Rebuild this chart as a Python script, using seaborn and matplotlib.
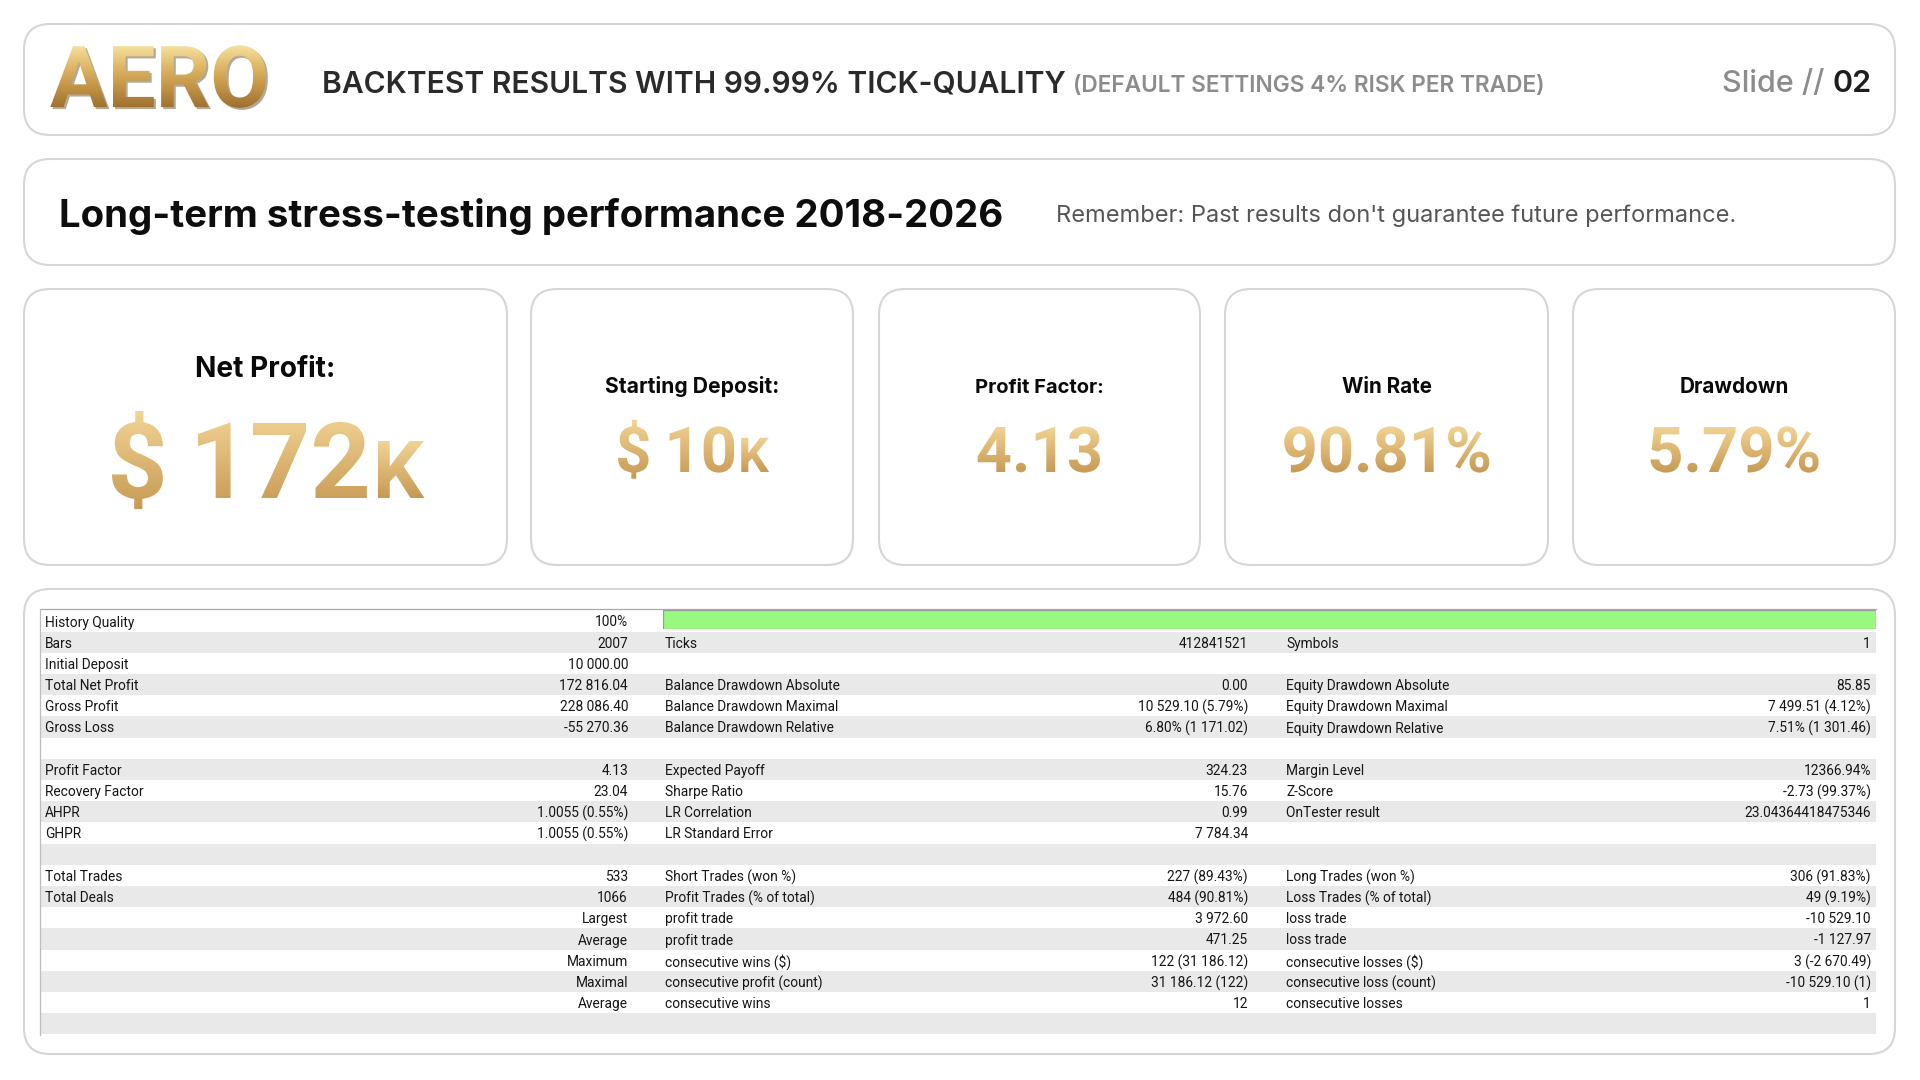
import numpy as np
import pandas as pd
import matplotlib
matplotlib.use("Agg")
import matplotlib.pyplot as plt
import seaborn as sns
from matplotlib.patches import FancyBboxPatch, Rectangle
from matplotlib.patheffects import AbstractPathEffect, SimplePatchShadow
from matplotlib.transforms import TransformedPath
from matplotlib.colors import LinearSegmentedColormap
from matplotlib import font_manager

# ---------------- data ----------------
logo_text = "AERO"
header_title = "BACKTEST RESULTS WITH 99.99% TICK-QUALITY"
header_sub = "(DEFAULT SETTINGS 4% RISK PER TRADE)"
slide_prefix = "Slide //"
slide_no = "02"
headline = "Long-term stress-testing performance 2018-2026"
disclaimer = "Remember: Past results don't guarantee future performance."

kpi_titles = ["Net Profit:", "Starting Deposit:", "Profit Factor:", "Win Rate", "Drawdown"]
kpi_values = ["$ 172", "$ 10", "4.13", "90.81%", "5.79%"]
kpi_suffix = ["K", "K", "", "", ""]

history_quality_label = "History Quality"
history_quality = 100

col1_labels = ["History Quality", "Bars", "Initial Deposit", "Total Net Profit", "Gross Profit",
               "Gross Loss", "", "Profit Factor", "Recovery Factor", "AHPR", "GHPR", "",
               "Total Trades", "Total Deals", "", "", "", "", "", ""]
col1_values = ["100%", "2007", "10 000.00", "172 816.04", "228 086.40", "-55 270.36", "",
               "4.13", "23.04", "1.0055 (0.55%)", "1.0055 (0.55%)", "", "533", "1066",
               "Largest", "Average", "Maximum", "Maximal", "Average", ""]
col2_labels = ["", "Ticks", "", "Balance Drawdown Absolute", "Balance Drawdown Maximal",
               "Balance Drawdown Relative", "", "Expected Payoff", "Sharpe Ratio", "LR Correlation",
               "LR Standard Error", "", "Short Trades (won %)", "Profit Trades (% of total)",
               "profit trade", "profit trade", "consecutive wins ($)", "consecutive profit (count)",
               "consecutive wins", ""]
col2_values = ["", "412841521", "", "0.00", "10 529.10 (5.79%)", "6.80% (1 171.02)", "",
               "324.23", "15.76", "0.99", "7 784.34", "", "227 (89.43%)", "484 (90.81%)",
               "3 972.60", "471.25", "122 (31 186.12)", "31 186.12 (122)", "12", ""]
col3_labels = ["", "Symbols", "", "Equity Drawdown Absolute", "Equity Drawdown Maximal",
               "Equity Drawdown Relative", "", "Margin Level", "Z-Score", "OnTester result",
               "", "", "Long Trades (won %)", "Loss Trades (% of total)", "loss trade",
               "loss trade", "consecutive losses ($)", "consecutive loss (count)",
               "consecutive losses", ""]
col3_values = ["", "1", "", "85.85", "7 499.51 (4.12%)", "7.51% (1 301.46)", "",
               "12366.94%", "-2.73 (99.37%)", "23.04364418475346", "", "", "306 (91.83%)",
               "49 (9.19%)", "-10 529.10", "-1 127.97", "3 (-2 670.49)", "-10 529.10 (1)", "1", ""]

# ---------------- style ----------------
sns.set_theme(style="white")
plt.rcParams["font.family"] = ["Roboto", "DejaVu Sans"]


def has_weight(fam, minw):
    for f in font_manager.fontManager.ttflist:
        if f.name == fam:
            w = f.weight
            if isinstance(w, str):
                w = font_manager.weight_dict.get(w, 400)
            if w >= minw:
                return True
    return False


HEAD = "Inter" if has_weight("Inter", 600) else "Roboto"
VALF = "Roboto"
NARROW = has_weight("Liberation Sans Narrow", 400)
TABF = "Liberation Sans Narrow" if NARROW else "Roboto"

GOLD = ["#F2D596", "#DDB673", "#C59952"]
LOGO_GOLD = ["#F7E4A2", "#E0B968", "#C39345", "#9A7030"]


class GradientFill(AbstractPathEffect):
    """Fill glyph outlines of a real text with a vertical gradient (top -> bottom)."""

    def __init__(self, colors):
        super().__init__()
        self.cmap = LinearSegmentedColormap.from_list("g", colors)

    def draw_path(self, renderer, gc, tpath, affine, rgbFace=None):
        p = affine.transform_path(tpath)
        ext = p.get_extents()
        x0, y0 = int(np.floor(ext.x0)) - 1, int(np.floor(ext.y0)) - 1
        x1, y1 = int(np.ceil(ext.x1)) + 1, int(np.ceil(ext.y1)) + 1
        w, h = max(x1 - x0, 1), max(y1 - y0, 1)
        # Agg images are stored bottom row first
        t = np.linspace(1, 0, h)[:, None]
        rgba = (self.cmap(np.repeat(t, w, axis=1)) * 255).astype(np.uint8)
        rgba = np.ascontiguousarray(rgba)
        gc2 = renderer.new_gc()
        gc2.copy_properties(gc)
        gc2.set_clip_path(TransformedPath(tpath, affine))
        renderer.draw_image(gc2, x0, y0, rgba)
        gc2.restore()


fig = plt.figure(figsize=(19.2, 10.8), dpi=100)
fig.patch.set_facecolor("white")
ax = fig.add_axes([0, 0, 1, 1])
ax.set_xlim(0, 1920)
ax.set_ylim(1080, 0)
ax.axis("off")
renderer = fig.canvas.get_renderer()


def rbox(x0, y0, x1, y1, r=26, ec="#d6d6d6", lw=1.5):
    ax.add_patch(FancyBboxPatch((x0, y0), x1 - x0, y1 - y0,
                                boxstyle=f"round,pad=0,rounding_size={r}",
                                fc="white", ec=ec, lw=lw, zorder=1))


def width_of(t):
    return t.get_window_extent(renderer).width


def fit_text(x, y, s, target_w, ha="left", **kw):
    t = ax.text(x, y, s, ha=ha, va="baseline", fontsize=20, zorder=5, **kw)
    for _ in range(2):
        t.set_fontsize(t.get_fontsize() * target_w / width_of(t))
    return t


def cap_pt(cap_px, ratio=0.711):
    return cap_px / ratio * 72 / 100


# ---------------- boxes ----------------
rbox(24, 24, 1895, 135)
rbox(24, 159, 1895, 265)
cards = [(24, 507), (531, 853), (879, 1200), (1225, 1548), (1573, 1895)]
for x0, x1 in cards:
    rbox(x0, 289, x1, 565)
rbox(24, 589, 1895, 1054)

# ---------------- header ----------------
logo = fit_text(50, 107, logo_text, 219, family=VALF, weight="bold")
logo.set_path_effects([SimplePatchShadow(offset=(1.5, -1.5), shadow_rgbFace="#5a4015", alpha=0.45),
                       GradientFill(LOGO_GOLD)])

fit_text(322, 92, header_title, 744, family=HEAD, weight="semibold", color="#2a2a2a")
fit_text(1073, 92, header_sub, 472, family=HEAD, weight="semibold", color="#8c8c8c")
t_slide = fit_text(1722, 92, slide_prefix + " " + slide_no, 150, family=HEAD, weight="medium",
                   color="#8c8c8c")
fs_slide = t_slide.get_fontsize()
t_slide.set_text(slide_prefix)
ax.text(1722 + width_of(t_slide) + fs_slide * 100 / 72 * 0.28, 92, slide_no, ha="left",
        va="baseline", fontsize=fs_slide, family=HEAD, weight="semibold", color="#1e1e1e", zorder=5)

fit_text(59, 227, headline, 945, family=HEAD, weight="bold", color="#0d0d0d")
fit_text(1056, 222, disclaimer, 680, family=HEAD, weight="normal", color="#555555")

# ---------------- KPI cards ----------------
title_w = [140, 174, 129, 90, 109]
title_base = [377, 393, 393, 393, 393]
value_cap = [75, 45, 45, 45, 45]
value_base = [498, 472, 472, 472, 472]
for i, (x0, x1) in enumerate(cards):
    cx = (x0 + x1) / 2
    fit_text(cx, title_base[i], kpi_titles[i], title_w[i], ha="center",
             family=HEAD, weight="bold", color="#0a0a0a")
    fs = cap_pt(value_cap[i])
    shown = kpi_values[i].replace(" ", "\u2009")
    t1 = ax.text(0, value_base[i], shown, ha="left", va="baseline", fontsize=fs,
                 family=[VALF, "DejaVu Sans"], weight="bold", zorder=5)
    parts = [t1]
    if kpi_suffix[i]:
        t2 = ax.text(0, value_base[i], kpi_suffix[i], ha="left", va="baseline", fontsize=fs * 0.76,
                     family=VALF, weight="bold", zorder=5)
        parts.append(t2)
    gap = fs * 100 / 72 * 0.02
    total = sum(width_of(p) for p in parts) + gap * (len(parts) - 1)
    x = cx - total / 2
    for p in parts:
        p.set_x(x)
        p.set_path_effects([GradientFill(GOLD)])
        x += width_of(p) + gap

# ---------------- stats table ----------------
row_y0, row_h = 621.0, 21.2
n_rows = len(col1_labels)
tab_x0, tab_x1 = 40, 1876
for i in range(n_rows):
    if i % 2 == 1:
        ax.add_patch(Rectangle((tab_x0, row_y0 + (i - 0.5) * row_h), tab_x1 - tab_x0, row_h,
                               fc="#e9e9e9", ec="none", zorder=2))
ax.plot([tab_x0, tab_x1], [608.5, 608.5], color="#a9a9a9", lw=0.9, zorder=3)
ax.plot([tab_x0, tab_x0], [608.5, row_y0 + (n_rows - 0.5) * row_h + 1], color="#bdbdbd", lw=0.9, zorder=3)

# table font size fitted on a reference label width (Segoe-like text is a bit taller)
probe = ax.text(0, 0, "Balance Drawdown Absolute", fontsize=10, family=TABF)
tfs = 10 * 165 / width_of(probe) * (1.0 if NARROW else 1.06)
probe.remove()

lab_x = [45, 665, 1286]
val_x = [628, 1248, 1871]
cols = [(col1_labels, col1_values), (col2_labels, col2_values), (col3_labels, col3_values)]
for c, (labs, vals) in enumerate(cols):
    for i in range(n_rows):
        y = row_y0 + i * row_h
        if labs[i]:
            ax.text(lab_x[c], y, labs[i], ha="left", va="center_baseline", fontsize=tfs,
                    family=TABF, color="#161616", zorder=5)
        if vals[i]:
            ax.text(val_x[c], y, vals[i], ha="right", va="center_baseline", fontsize=tfs,
                    family=TABF, color="#161616", zorder=5)

# History-quality bar drawn with seaborn
bx0, bx1, by0, by1 = 663, 1876, 610, 628.5
bax = fig.add_axes([bx0 / 1920, 1 - by1 / 1080, (bx1 - bx0) / 1920, (by1 - by0) / 1080])
hq = pd.DataFrame({"metric": [history_quality_label], "value": [history_quality]})
sns.barplot(data=hq, x="value", y="metric", orient="h", color="#98f880", saturation=1,
            width=1.0, edgecolor="#9a9a9a", linewidth=0.9, ax=bax)
bax.set_xlim(0, 100)
bax.set_ylim(0.5, -0.5)
bax.axis("off")
bax.patch.set_alpha(0)

fig.savefig("out.png", dpi=100, facecolor="white")
